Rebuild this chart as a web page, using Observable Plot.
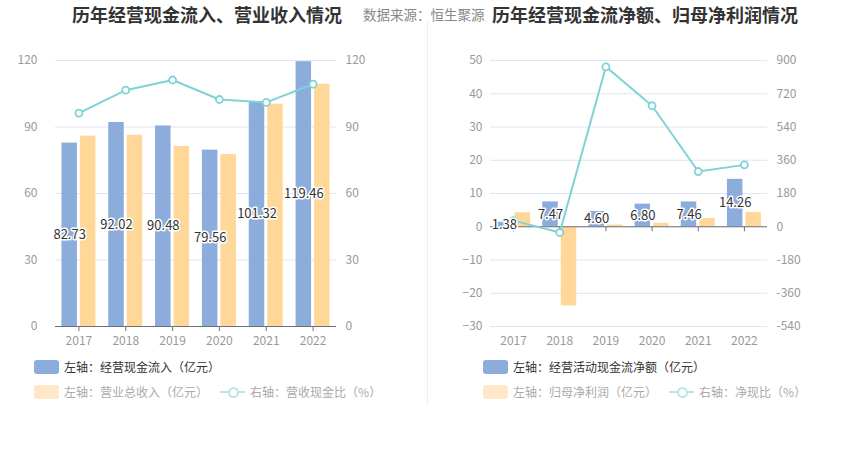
<!DOCTYPE html>
<html><head><meta charset="utf-8">
<script src="https://cdn.jsdelivr.net/npm/d3@7"></script>
<script src="https://cdn.jsdelivr.net/npm/@observablehq/plot@0.6"></script>
<style>
body{margin:0;background:#fff;font-family:"Noto Sans CJK SC","Noto Sans",sans-serif;}
#wrap{position:relative;width:850px;height:458px;overflow:hidden;background:#fff;}
.title{position:absolute;top:3px;font-size:18px;font-weight:bold;color:#333;white-space:nowrap;line-height:22px;}
.src{position:absolute;top:5px;left:363px;font-size:13.5px;color:#888;white-space:nowrap;line-height:18px;}
.chart{position:absolute;top:40px;}
.divider{position:absolute;left:427px;top:20px;width:1px;height:385px;background:#eeeeee;}
.lg{position:absolute;font-size:12px;line-height:16px;white-space:nowrap;display:flex;align-items:center;}
.p{display:inline-block;width:1em;text-align:center;}
.sw{display:inline-block;width:25px;height:14px;border-radius:3px;margin-right:5px;}
.ln{display:inline-block;width:25px;height:14px;margin-right:5px;position:relative;}
.ln:before{content:"";position:absolute;left:0;top:6px;width:25px;height:2px;background:#b7e6e8;}
.ln:after{content:"";position:absolute;left:7.5px;top:2px;width:7px;height:7px;border:2px solid #b7e6e8;border-radius:50%;background:#fff;}
</style>
</head><body>
<div id="wrap">
  <div class="title" style="left:72px;">历年经营现金流入、营业收入情况</div>
  <div class="src">数据来源<span class="p">：</span>恒生聚源</div>
  <div class="title" style="left:492px;">历年经营现金流净额、归母净利润情况</div>
  <div class="divider"></div>
  <div id="c1" class="chart" style="left:0px;"></div>
  <div id="c2" class="chart" style="left:427px;"></div>

  <div class="lg" style="left:34px;top:359px;color:#333;"><span class="sw" style="background:#8cacdb"></span>左轴<span class="p">：</span>经营现金流入<span class="p">（</span>亿元<span class="p">）</span></div>
  <div class="lg" style="left:34px;top:384px;color:#aaa;"><span class="sw" style="background:#ffe8c8"></span>左轴<span class="p">：</span>营业总收入<span class="p">（</span>亿元<span class="p">）</span><span style="width:12px;display:inline-block"></span><span class="ln"></span>右轴<span class="p">：</span>营收现金比<span class="p">（</span>%<span class="p">）</span></div>

  <div class="lg" style="left:483px;top:359px;color:#333;"><span class="sw" style="background:#8cacdb"></span>左轴<span class="p">：</span>经营活动现金流净额<span class="p">（</span>亿元<span class="p">）</span></div>
  <div class="lg" style="left:483px;top:384px;color:#aaa;"><span class="sw" style="background:#ffe8c8"></span>左轴<span class="p">：</span>归母净利润<span class="p">（</span>亿元<span class="p">）</span><span style="width:12px;display:inline-block"></span><span class="ln"></span>右轴<span class="p">：</span>净现比<span class="p">（</span>%<span class="p">）</span></div>
</div>
<script>
const years = ["2017","2018","2019","2020","2021","2022"];
// Left chart
const cashInflow = [82.73, 92.02, 90.48, 79.56, 101.32, 119.46];
const revenue = [85.9, 86.3, 81.2, 77.6, 100.3, 109.3];
const cashRevRatio = [96.3, 106.6, 111.2, 102.4, 101.1, 109.3];
const leftTicks1 = [0, 30, 60, 90, 120];
// Right chart
const netCashFlow = [1.38, 7.47, 4.60, 6.80, 7.46, 14.26];
const netProfit = [4.2, -23.8, 0.53, 1.05, 2.5, 4.3];
const netCashRatio = [33, -31, 866, 655, 299, 335];
const leftTicks2 = [-30, -20, -10, 0, 10, 20, 30, 40, 50];
const rightScaleFactor = 18; // right axis 900 ↔ left axis 50

const BLUE = "#8cacdb", ORANGE = "#ffd899", TEAL = "#7fd3d6", AXIS = "#6e7079", GRID = "#e0e6f1";
const FONT = '"Noto Sans CJK SC","Noto Sans",sans-serif';

const rows1 = years.map((y, i) => ({year: y, inflow: cashInflow[i], revenue: revenue[i], ratio: cashRevRatio[i]}));
const rows2 = years.map((y, i) => ({year: y, net: netCashFlow[i], profit: netProfit[i], ratio: netCashRatio[i]}));

function makeChart({rows, blueKey, orangeKey, lineY, domain, ticks, rightFormat, width, ml, mr, mlPad}) {
  const H = 317, mt = 20, mb = 31;
  const step = (width - ml - mr) / years.length;
  const half = step / 2;
  const barW = 15.5, gap = 1.5;
  const blueIns = {insetLeft: half - gap - barW, insetRight: half + gap};
  const orangeIns = {insetLeft: half + gap, insetRight: half - gap - barW};
  return Plot.plot({
    width, height: H, marginTop: mt, marginBottom: mb, marginLeft: ml, marginRight: mr,
    x: {type: "band", domain: years, padding: 0, round: false},
    y: {domain},
    style: {fontFamily: FONT, fontSize: "12px", color: "#999", background: "transparent", overflow: "visible"},
    marks: [
      Plot.gridY(ticks, {stroke: GRID, strokeOpacity: 1}),
      Plot.axisY({ticks, tickSize: 0, tickPadding: mlPad, label: null, fill: "#999"}),
      Plot.axisY({anchor: "right", ticks, tickSize: 0, tickPadding: 9, label: null, tickFormat: rightFormat, fill: "#999"}),
      Plot.barY(rows, {x: "year", y: blueKey, fill: BLUE, ...blueIns}),
      Plot.barY(rows, {x: "year", y: orangeKey, fill: ORANGE, ...orangeIns}),
      Plot.ruleY([0], {stroke: AXIS, strokeWidth: 1}),
      Plot.ruleX(years, {x: d => d, y1: 0, y2: 0, insetBottom: -5, stroke: AXIS}),
      Plot.axisX({tickSize: 0, tickPadding: 10, label: null, fill: "#999"}),
      Plot.line(rows, {x: "year", y: lineY, stroke: TEAL, strokeWidth: 2}),
      Plot.dot(rows, {x: "year", y: lineY, r: 3.5, fill: "white", stroke: TEAL, strokeWidth: 1.8}),
      Plot.text(rows, {x: "year", y: d => d[blueKey] / 2, text: d => d[blueKey].toFixed(2), dx: -(gap + barW / 2),
        fill: "#333", stroke: "white", strokeWidth: 3, fontSize: 13})
    ]
  });
}

document.getElementById("c1").append(makeChart({
  rows: rows1, blueKey: "inflow", orangeKey: "revenue", lineY: d => d.ratio,
  domain: [0, 120], ticks: leftTicks1, rightFormat: d => d,
  width: 425, ml: 55, mr: 89, mlPad: 18
}));

document.getElementById("c2").append(makeChart({
  rows: rows2, blueKey: "net", orangeKey: "profit", lineY: d => d.ratio / rightScaleFactor,
  domain: [-30, 50], ticks: leftTicks2, rightFormat: d => d * rightScaleFactor,
  width: 423, ml: 63, mr: 83, mlPad: 8
}));
</script>
</body></html>
